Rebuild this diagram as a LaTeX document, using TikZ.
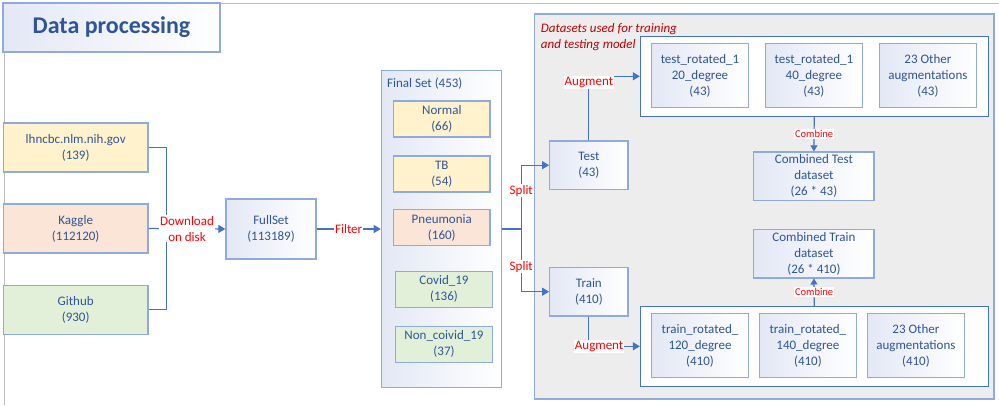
\documentclass[tikz,border=0pt]{standalone}
\usepackage{fontspec}
\setmainfont{Carlito}
\usepackage{tikz}
\usetikzlibrary{arrows.meta,positioning,calc}
\definecolor{bleu}{HTML}{2F5597}
\definecolor{bordure}{HTML}{8FAADC}
\definecolor{trait}{HTML}{4472C4}
\definecolor{degradebleu}{HTML}{E3E8F5}
\definecolor{jauneclair}{HTML}{FFF2CC}
\definecolor{pecheclair}{HTML}{FBE5D6}
\definecolor{vertclair}{HTML}{E2F0D9}
\definecolor{grisfond}{HTML}{EDEDED}
\definecolor{gris}{HTML}{BFBFBF}
\definecolor{rougefonce}{HTML}{C00000}
\definecolor{rouge}{HTML}{FF0000}
\tikzset{
  boite/.style={draw=bordure,line width=1.3pt,align=center,text=bleu,
                font=\fontsize{13}{16}\selectfont,inner sep=0pt},
  degrade/.style={boite,left color=degradebleu,right color=white},
  lien/.style={line width=1.1pt,color=trait},
  fleche/.style={lien,-{Triangle[length=7pt,width=8pt]}},
  etiq/.style={fill=white,text=rouge,font=\fontsize{13}{16}\selectfont,inner sep=1pt,align=center},
}

\begin{document}
\begin{tikzpicture}[x=1pt,y=-1pt,
  source/.style={boite,minimum width=144.6pt,minimum height=49pt},
  classe/.style={boite,minimum width=96.4pt,minimum height=36pt},
  aug/.style={degrade,minimum width=96.5pt,minimum height=64.4pt},
  lot/.style={degrade,minimum width=78.3pt,minimum height=48.3pt},
  combi/.style={degrade,minimum width=120.3pt,minimum height=48.3pt},
  groupe/.style={draw=trait,line width=0.9pt,fill=white,minimum width=348pt,minimum height=80pt,inner sep=0pt}]
  \useasboundingbox (0,0) rectangle (999,405);
  \draw[gris,line width=0.8pt] (4.4,405) -- (4.4,3) -- (999,3);
  \node[degrade,minimum width=217pt,minimum height=49pt,font=\fontsize{24}{26}\selectfont\bfseries] (titre) at (111.5,27.5) {Data processing};
  \node[source,fill=jauneclair] (lhncbc) at (75.7,147.5) {lhncbc.nlm.nih.gov\\(139)};
  \node[source,fill=pecheclair] (kaggle) at (75.7,228.5) {Kaggle\\(112120)};
  \node[source,fill=vertclair] (github) at (75.7,309.7) {Github\\(930)};
  \node[degrade,minimum width=90pt,minimum height=60pt] (fullset) at (271,229) {FullSet\\(113189)};
  \node[degrade,minimum width=120.3pt,minimum height=317pt] (final) at (441.5,229) {};
  \node[anchor=west,text=bleu,font=\fontsize{13}{16}\selectfont,inner sep=0pt] (titrefinal) at (387,84) {Final Set (453)};
  \node[classe,fill=jauneclair] (normal) at (441.8,119) {Normal\\(66)};
  \node[classe,fill=jauneclair] (tb) at (441.8,173.9) {TB\\(54)};
  \node[classe,fill=pecheclair] (pneumonia) at (441.8,227.5) {Pneumonia\\(160)};
  \node[classe,fill=vertclair] (covid) at (444,289.2) {Covid\_19\\(136)};
  \node[classe,fill=vertclair] (noncovid) at (444,344.2) {Non\_coivid\_19\\(37)};
  \node[draw=bordure,line width=1.3pt,fill=grisfond,minimum width=459.3pt,minimum height=385pt,inner sep=0pt] (jeux) at (764.35,206.5) {};
  \node[anchor=north west,align=left,text=rougefonce,font=\fontsize{13}{16}\selectfont\itshape,inner sep=0pt] (titrejeux) at (540.7,23.5) {Datasets used for training\\and testing model};
  \node[lot] (test) at (588.9,165.2) {Test\\(43)};
  \node[lot] (train) at (588.9,291.7) {Train\\(410)};
  \node[groupe] (grptest) at (814.3,76.3) {};
  \node[aug] (testa) at (700,75.5) {test\_rotated\_1\\20\_degree\\(43)};
  \node[aug] (testb) at (813.9,75.5) {test\_rotated\_1\\40\_degree\\(43)};
  \node[aug] (testc) at (927.9,75.5) {23 Other\\augmentations\\(43)};
  \node[combi] (combtest) at (813.9,176.2) {Combined Test\\dataset\\(26 * 43)};
  \node[combi] (combtrain) at (813.9,253.7) {Combined Train\\dataset\\(26 * 410)};
  \node[groupe] (grptrain) at (814.3,346.3) {};
  \node[aug] (traina) at (700,345.5) {train\_rotated\_\\120\_degree\\(410)};
  \node[aug] (trainb) at (807.9,345.5) {train\_rotated\_\\140\_degree\\(410)};
  \node[aug] (trainc) at (915.9,345.5) {23 Other\\augmentations\\(410)};
  \draw[lien] (lhncbc.east) -- ++(18,0) |- (github.east);
  \draw[fleche] (kaggle.east) -- node[etiq]{Download\\on disk} (fullset.west);
  \draw[fleche] (fullset.east) -- node[etiq]{Filter} (final.west);
  \draw[lien] (final.east) -- ++(19,0) coordinate (partage);
  \draw[fleche] (partage) |- node[etiq,pos=0.3]{Split} (test.west);
  \draw[fleche] (partage) |- node[etiq,pos=0.3]{Split} (train.west);
  \draw[fleche] (test.north) |- node[etiq,pos=0.45]{Augment} (grptest.west);
  \draw[fleche] (train.south) |- node[etiq,pos=0.6]{Augment} (grptrain.west);
  \draw[lien,-{Triangle[length=6pt,width=7pt]}] (grptest.south) -- node[etiq,font=\fontsize{10.5}{12}\selectfont]{Combine} (combtest.north);
  \draw[lien,-{Triangle[length=6pt,width=7pt]}] (grptrain.north) -- node[etiq,font=\fontsize{10.5}{12}\selectfont]{Combine} (combtrain.south);
\end{tikzpicture}
\end{document}
